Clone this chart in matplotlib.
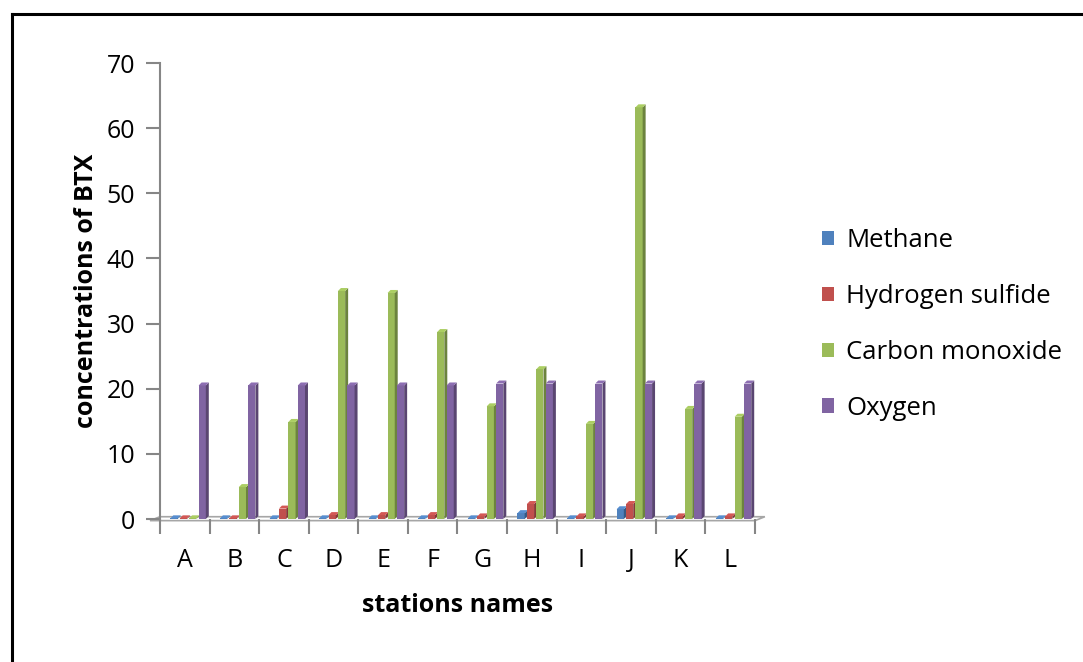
import numpy as np
import matplotlib.pyplot as plt
from matplotlib.patches import Polygon, Rectangle
from matplotlib.lines import Line2D

plt.rcParams['font.family'] = ['Open Sans', 'DejaVu Sans']

stations = ['A', 'B', 'C', 'D', 'E', 'F', 'G', 'H', 'I', 'J', 'K', 'L']
methane = [0.1, 0.1, 0.1, 0.1, 0.1, 0.1, 0.1, 0.9, 0.1, 1.5, 0.1, 0.1]
hydrogen_sulfide = [0.1, 0.1, 1.6, 0.6, 0.6, 0.6, 0.4, 2.3, 0.4, 2.3, 0.4, 0.4]
carbon_monoxide = [0.1, 4.9, 14.9, 35.0, 34.7, 28.7, 17.3, 23.0, 14.6, 63.2, 16.9, 15.7]
oxygen = [20.5, 20.5, 20.5, 20.5, 20.5, 20.5, 20.8, 20.8, 20.8, 20.8, 20.8, 20.8]

series = [('Methane', methane, '#4F81BD'),
          ('Hydrogen sulfide', hydrogen_sulfide, '#C0504D'),
          ('Carbon monoxide', carbon_monoxide, '#9BBB59'),
          ('Oxygen', oxygen, '#8064A2')]


def shade(c, f):
    c = np.array(plt.matplotlib.colors.to_rgb(c))
    return tuple(np.clip(c * f, 0, 1))


fig = plt.figure(figsize=(10.83, 6.62), dpi=100)
ax = fig.add_axes([0.1477, 0.216, 0.5494, 0.6888])

# outer frame (top and left edges visible)
fig.add_artist(Line2D([12/1083, 1.0], [1 - 14/662, 1 - 14/662], transform=fig.transFigure,
                      color='black', lw=2.2))
fig.add_artist(Line2D([12/1083, 12/1083], [0, 1 - 14/662], transform=fig.transFigure,
                      color='black', lw=2.2))

ax.set_xlim(0, 12)
ax.set_ylim(0, 70)

# floor slab
dx, dy = 0.06, 0.46
floor = Polygon([(-0.2, -0.25), (12.0, -0.25), (12.2, 0.35), (0.0, 0.35)], closed=True,
                facecolor='white', edgecolor='#A6A6A6', lw=1.2, clip_on=False, zorder=1)
ax.add_patch(floor)

w = 0.145
step = 0.19
for k, (name, vals, col) in enumerate(series):
    for i, v in enumerate(vals):
        x0 = i + 0.21 + k * step
        ax.add_patch(Rectangle((x0, 0), w, v, facecolor=col, edgecolor='none', zorder=3,
                               clip_on=False))
        ax.add_patch(Polygon([(x0 + w, 0), (x0 + w + dx, dy), (x0 + w + dx, v + dy), (x0 + w, v)],
                             closed=True, facecolor=shade(col, 0.7), edgecolor='none',
                             zorder=3, clip_on=False))
        ax.add_patch(Polygon([(x0, v), (x0 + dx, v + dy), (x0 + w + dx, v + dy), (x0 + w, v)],
                             closed=True, facecolor=shade(col, 1.1), edgecolor='none',
                             zorder=3, clip_on=False))
    ax.add_patch(Rectangle((0, 0), 0, 0, facecolor=col, label=name))

for s in ['top', 'right', 'bottom']:
    ax.spines[s].set_visible(False)
ax.spines['left'].set_color('#868686')
ax.spines['left'].set_linewidth(1.5)

ax.set_yticks(range(0, 71, 10))
ax.tick_params(axis='y', length=10, width=1.5, color='#868686', labelsize=18, pad=8)
ax.set_xticks(range(0, 13))
ax.set_xticklabels([])
ax.set_xticks(np.arange(12) + 0.5, minor=True)
ax.set_xticklabels(stations, minor=True)
ax.tick_params(axis='x', which='major', length=11, width=1.5, color='#868686', direction='out')
ax.tick_params(axis='x', which='minor', length=0, labelsize=18, pad=21)

ax.set_ylabel('concentrations of BTX', fontsize=18, fontweight='bold', labelpad=5)
ax.set_xlabel('stations names', fontsize=18, fontweight='bold', labelpad=14)

leg = fig.legend(loc='center left', bbox_to_anchor=(0.759, 0.51), frameon=False,
                 fontsize=18.5, handlelength=0.47, handleheight=0.47, handletextpad=0.47,
                 labelspacing=1.2, borderpad=0, borderaxespad=0)

fig.savefig('out.png', dpi=100)
